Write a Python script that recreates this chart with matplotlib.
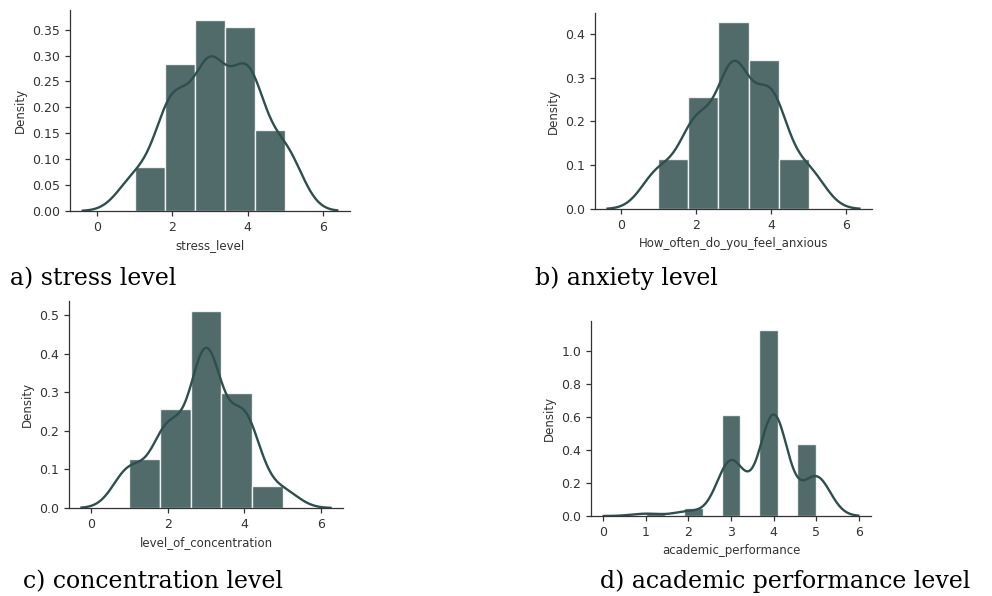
import numpy as np
import matplotlib
matplotlib.use("Agg")
import matplotlib.pyplot as plt

# answers are on a 1-5 scale; counts = respondents per answer (n = 88)
scores = [1, 2, 3, 4, 5]
stress_counts = [6, 20, 26, 25, 11]
anxiety_counts = [8, 18, 30, 24, 8]
concentration_counts = [9, 18, 36, 21, 4]
academic_counts = [1, 2, 24, 44, 17]

xlabels = ["stress_level", "How_often_do_you_feel_anxious",
           "level_of_concentration", "academic_performance"]
captions = ["a) stress level", "b) anxiety level",
            "c) concentration level", "d) academic performance level"]

xticks_abc = [0, 2, 4, 6]
xticks_d = [0, 1, 2, 3, 4, 5, 6]
yticks_a = [0, 0.05, 0.10, 0.15, 0.20, 0.25, 0.30, 0.35]
yticks_b = [0, 0.1, 0.2, 0.3, 0.4]
yticks_c = [0, 0.1, 0.2, 0.3, 0.4, 0.5]
yticks_d = [0, 0.2, 0.4, 0.6, 0.8, 1.0]

BASE = "#2f4f4f"
INK = "#333333"


def fd_bins(x):
    # Freedman-Diaconis bin count, capped at 50 (what distplot does)
    iqr = np.subtract(*np.percentile(x, [75, 25]))
    h = 2 * iqr / len(x) ** (1 / 3)
    if h == 0:
        return int(np.sqrt(len(x)))
    return min(int(np.ceil((x.max() - x.min()) / h)), 50)


def kde_curve(x, gridsize=200, cut=3):
    # gaussian kde, scott bandwidth
    bw = x.std(ddof=1) * len(x) ** (-1 / 5)
    grid = np.linspace(x.min() - cut * bw, x.max() + cut * bw, gridsize)
    z = (grid[:, None] - x[None, :]) / bw
    dens = np.exp(-0.5 * z ** 2).sum(axis=1) / (len(x) * bw * np.sqrt(2 * np.pi))
    return grid, dens


def draw_panel(ax, counts, xlabel, xticks, yticks):
    x = np.repeat(scores, counts).astype(float)
    ax.hist(x, bins=fd_bins(x), density=True, color=BASE, alpha=0.84,
            edgecolor="white", linewidth=1)
    grid, dens = kde_curve(x)
    ax.plot(grid, dens, color=BASE, lw=1.7)

    ax.set_xticks(xticks)
    ax.set_yticks(yticks)
    ax.set_xlabel(xlabel, fontsize=8.5, color=INK)
    ax.set_ylabel("Density", fontsize=8.5, color=INK)
    ax.tick_params(labelsize=9, colors=INK, length=3.5, width=0.9)
    for side in ("top", "right"):
        ax.spines[side].set_visible(False)
    for side in ("left", "bottom"):
        ax.spines[side].set_color(INK)
        ax.spines[side].set_linewidth(0.9)


W, H = 992, 596
fig = plt.figure(figsize=(W / 100, H / 100), dpi=100)


def px_axes(left, top, right, bottom):
    return fig.add_axes([left / W, 1 - bottom / H, (right - left) / W, (bottom - top) / H])


ax_a = px_axes(70, 10, 350, 211)
ax_b = px_axes(595, 13, 872, 209)
ax_c = px_axes(69, 301, 343, 508)
ax_d = px_axes(591, 321, 871, 516)

draw_panel(ax_a, stress_counts, xlabels[0], xticks_abc, yticks_a)
draw_panel(ax_b, anxiety_counts, xlabels[1], xticks_abc, yticks_b)
draw_panel(ax_c, concentration_counts, xlabels[2], xticks_abc, yticks_c)
draw_panel(ax_d, academic_counts, xlabels[3], xticks_d, yticks_d)

# figure captions under each panel
cap_pos = [(10, 285), (535, 285), (23, 588), (600, 588)]
for text, (cx, cy) in zip(captions, cap_pos):
    fig.text(cx / W, 1 - cy / H, text, fontsize=17, family="DejaVu Serif",
             color="black", va="baseline", ha="left")

fig.savefig("out.png", dpi=100)
